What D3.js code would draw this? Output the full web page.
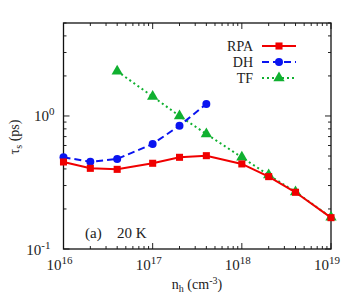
<!DOCTYPE html>
<html>
<head>
<meta charset="utf-8">
<script src="https://cdn.jsdelivr.net/npm/d3@7"></script>
<style>
body { margin: 0; background: #fff; }
svg text { font-family: 'Liberation Serif', 'Times New Roman', serif; }
</style>
</head>
<body>
<div id="chart"></div>
<script>
// densities (cm^-3)
let dens = [1e16, 2e16, 4e16, 1e17, 2e17, 4e17, 1e18, 2e18, 4e18, 1e19];
let rpa = [0.451, 0.404, 0.397, 0.441, 0.489, 0.503, 0.436, 0.350, 0.267, 0.172];
let dhDens = [1e16, 2e16, 4e16, 1e17, 2e17, 4e17];
let dh = [0.489, 0.453, 0.475, 0.616, 0.846, 1.23];
let tfDens = [4e16, 1e17, 2e17, 4e17, 1e18, 2e18, 4e18, 1e19];
let tf = [2.17, 1.40, 1.0, 0.732, 0.489, 0.360, 0.268, 0.173];
let xTickExp = [16, 17, 18, 19];
let yTickExp = [-1, 0];

let W = 354, H = 297;
let margin = {top: 23, right: 23, bottom: 48, left: 63.5};
let width = W - margin.left - margin.right,
height = H - margin.top - margin.bottom;

let svg = d3.select('#chart').append('svg').
attr('width', W).attr('height', H);

let g = svg.append('g').
attr('transform', 'translate(' + margin.left + ',' + margin.top + ')');

let x = d3.scaleLog().domain([1e16, 1e19]).range([0, width]);
let y = d3.scaleLog().domain([0.1, 5]).range([height, 0]);

// minor + major ticks, inward, mirrored
let xMinor = [];
for (let e = 16; e < 19; e++) for (let k = 2; k <= 9; k++) xMinor.push(k * Math.pow(10, e));
let yMinor = [];
[0.1, 1].forEach(function (b) {for (let k = 2; k <= 9; k++) if (k * b <= 5) yMinor.push(k * b);});

let ticks = g.append('g').attr('stroke', '#222').attr('stroke-width', 1);
xTickExp.forEach(function (e) {
  let v = Math.pow(10, e);
  ticks.append('line').attr('x1', x(v)).attr('x2', x(v)).attr('y1', height).attr('y2', height - 6);
  ticks.append('line').attr('x1', x(v)).attr('x2', x(v)).attr('y1', 0).attr('y2', 6);
});
xMinor.forEach(function (v) {
  ticks.append('line').attr('x1', x(v)).attr('x2', x(v)).attr('y1', height).attr('y2', height - 3);
  ticks.append('line').attr('x1', x(v)).attr('x2', x(v)).attr('y1', 0).attr('y2', 3);
});
yTickExp.forEach(function (e) {
  let v = Math.pow(10, e);
  ticks.append('line').attr('x1', 0).attr('x2', 6).attr('y1', y(v)).attr('y2', y(v));
  ticks.append('line').attr('x1', width).attr('x2', width - 6).attr('y1', y(v)).attr('y2', y(v));
});
yMinor.forEach(function (v) {
  ticks.append('line').attr('x1', 0).attr('x2', 3).attr('y1', y(v)).attr('y2', y(v));
  ticks.append('line').attr('x1', width).attr('x2', width - 3).attr('y1', y(v)).attr('y2', y(v));
});

// frame
g.append('rect').attr('width', width).attr('height', height).
attr('fill', 'none').attr('stroke', '#111').attr('stroke-width', 1.3);

// tick labels
xTickExp.forEach(function (e) {
  let t = g.append('text').attr('x', x(Math.pow(10, e)) - 4).attr('y', height + 21).
  attr('text-anchor', 'middle').attr('fill', '#222').style('font-size', '15px');
  t.append('tspan').text('10');
  t.append('tspan').attr('dy', -6).style('font-size', '11px').text(e);
});
yTickExp.forEach(function (e) {
  let t = g.append('text').attr('x', e === 0 ? -9 : -13).attr('y', y(Math.pow(10, e)) + (e === 0 ? 5 : 6)).
  attr('text-anchor', 'end').attr('fill', '#222').style('font-size', '15px');
  t.append('tspan').text('10');
  t.append('tspan').attr('dy', -6).style('font-size', '11px').text(e === -1 ? '-1' : e);
});

// axis labels
let xl = svg.append('text').attr('x', 197).attr('y', 289).attr('text-anchor', 'middle').
attr('fill', '#222').style('font-size', '14px');
xl.append('tspan').text('n');
xl.append('tspan').attr('dy', 3).style('font-size', '10px').text('h');
xl.append('tspan').attr('dy', -3).text(' (cm');
xl.append('tspan').attr('dy', -5).style('font-size', '10px').text('-3');
xl.append('tspan').attr('dy', 5).text(')');

let yl = svg.append('text').attr('transform', 'translate(19,137) rotate(-90)').
attr('text-anchor', 'middle').attr('fill', '#222').style('font-size', '14px');
yl.append('tspan').text('\u03c4');
yl.append('tspan').attr('dy', 3).style('font-size', '10px').text('s');
yl.append('tspan').attr('dy', -3).text(' (ps)');

// series
let series = [
{name: 'RPA', xs: dens, ys: rpa, color: '#f00000', dash: null, shape: d3.symbolSquare},
{name: 'DH', xs: dhDens, ys: dh, color: '#0a14f0', dash: '7,4', shape: d3.symbolCircle},
{name: 'TF', xs: tfDens, ys: tf, color: '#10b030', dash: '2,3', shape: d3.symbolTriangle}];

let line = d3.line().x(function (d) {return x(d[0]);}).y(function (d) {return y(d[1]);});

// draw TF first, then DH, then RPA on top
series.slice().reverse().forEach(function (s) {
  let pts = s.xs.map(function (v, i) {return [v, s.ys[i]];});
  g.append('path').datum(pts).attr('d', line).attr('fill', 'none').
  attr('stroke', s.color).attr('stroke-width', 2).
  attr('stroke-dasharray', s.dash);
  g.selectAll(null).data(pts).enter().append('path').
  attr('d', d3.symbol().type(s.shape).size(s.shape === d3.symbolTriangle ? 55 : 50)).
  attr('transform', function (d) {return 'translate(' + x(d[0]) + ',' + y(d[1]) + ')';}).
  attr('fill', s.color);
});

// legend
let legend = svg.append('g').attr('id', 'legend');
series.forEach(function (s, i) {
  let ly = 46 + i * 16;
  legend.append('text').attr('x', 253).attr('y', ly + 5).attr('text-anchor', 'end').
  attr('fill', '#222').style('font-size', '14px').text(s.name);
  legend.append('line').attr('x1', 262).attr('x2', 296).attr('y1', ly).attr('y2', ly).
  attr('stroke', s.color).attr('stroke-width', 2).attr('stroke-dasharray', s.dash);
  legend.append('path').attr('d', d3.symbol().type(s.shape).size(s.shape === d3.symbolTriangle ? 55 : 50)).
  attr('transform', 'translate(279,' + ly + ')').attr('fill', s.color);
});

// annotation
svg.append('text').attr('x', 85).attr('y', 238).attr('fill', '#222').style('font-size', '15px').text('(a)');
svg.append('text').attr('x', 117).attr('y', 238).attr('fill', '#222').style('font-size', '15px').text('20 K');
</script>
</body>
</html>
